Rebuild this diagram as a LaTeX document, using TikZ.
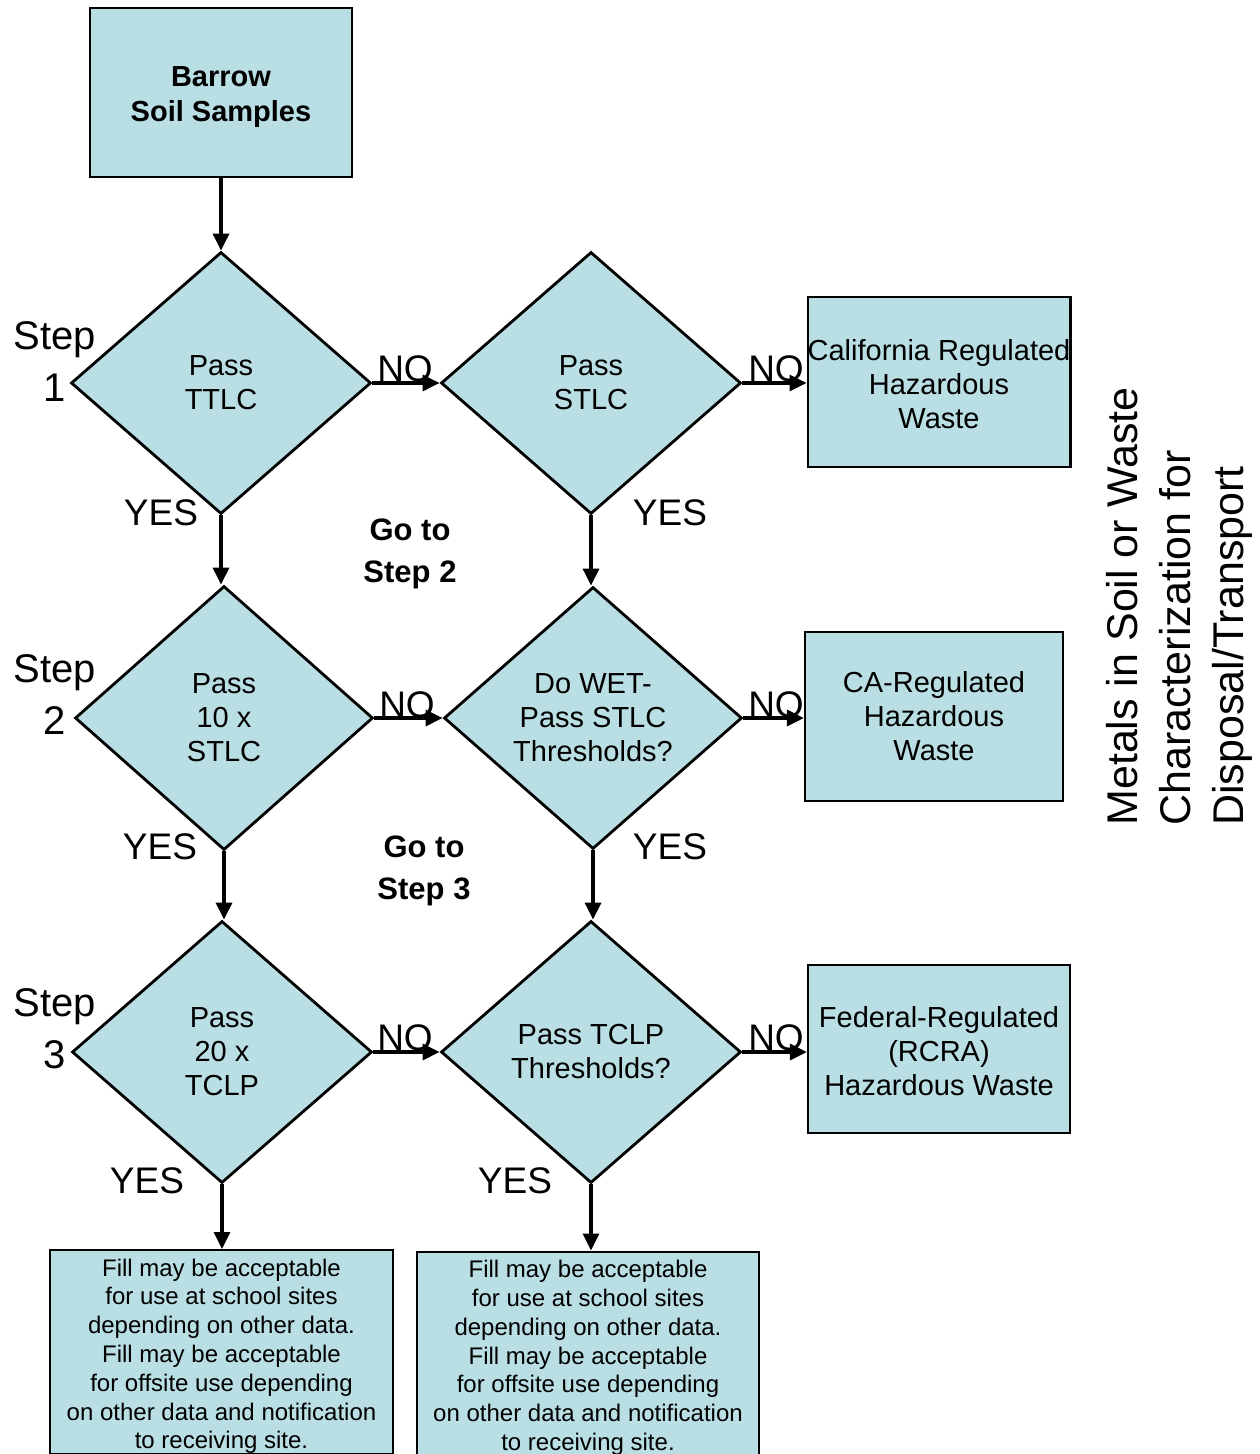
\documentclass[tikz,border=0pt]{standalone}
\usepackage{fontspec}
\setmainfont{Liberation Sans}
\usetikzlibrary{shapes.geometric,arrows.meta}
\definecolor{boxfill}{RGB}{185,222,227}
\tikzset{
  box/.style={draw=black,line width=1.1pt,fill=boxfill,inner sep=0pt,align=center,
    font=\fontsize{14.5}{17}\selectfont},
  dia/.style={draw=black,line width=1.4pt,fill=boxfill,shape=diamond,inner sep=0pt,
    minimum width=150pt,minimum height=131pt,align=center,font=\fontsize{14.5}{17}\selectfont},
  fillbox/.style={draw=black,line width=1.1pt,fill=boxfill,inner sep=0pt,align=center,
    font=\fontsize{12}{14.4}\selectfont},
  arr/.style={line width=1.6pt,-{Triangle[length=8.5pt,width=8pt]}},
  nolab/.style={anchor=base,inner sep=0pt,font=\fontsize{18.5}{20}\selectfont},
  steplab/.style={align=center,inner sep=0pt,font=\fontsize{20}{26}\selectfont},
  golab/.style={align=center,inner sep=0pt,font=\bfseries\fontsize{15.5}{21}\selectfont},
  titlelab/.style={rotate=90,anchor=base west,inner sep=0pt,font=\fontsize{21.5}{26}\selectfont}
}
\begin{document}
\begin{tikzpicture}[x=0.5pt,y=-0.5pt]
\useasboundingbox (0,0) rectangle (1259,1454);
% top box
\node[box,minimum width=131pt,minimum height=84.5pt,font=\bfseries\fontsize{14.5}{17.5}\selectfont] (top) at (221,92.5) {\rule{0pt}{14.6pt}Barrow\\Soil Samples};
% diamonds
\node[dia] (d1) at (221,383) {Pass\\TTLC};
\node[dia] (d1b) at (591,383) {Pass\\STLC};
\node[dia,minimum width=149pt,minimum height=132pt] (d2) at (224,718) {Pass\\10 x\\STLC};
\node[dia,minimum width=149pt] (d2b) at (593,718) {Do WET-\\Pass STLC\\Thresholds?};
\node[dia] (d3) at (222,1052) {Pass\\20 x\\TCLP};
\node[dia] (d3b) at (591,1052) {Pass TCLP\\Thresholds?};
% result boxes
\node[box,minimum width=131pt,minimum height=85pt] (ca1) at (939,382) {\rule{0pt}{12.6pt}California Regulated\\Hazardous\\Waste};
\node[box,minimum width=129pt,minimum height=84.5pt] (ca2) at (934,716.5) {CA-Regulated\\Hazardous\\Waste};
\node[box,minimum width=131pt,minimum height=84pt] (fed) at (939,1049) {\rule{0pt}{12.6pt}Federal-Regulated\\(RCRA)\\Hazardous Waste};
\node[fillbox,minimum width=171.5pt,minimum height=100pt] (bl) at (221.5,1352) {\rule{0pt}{13pt}Fill may be acceptable\\for use at school sites\\depending on other data.\\Fill may be acceptable\\for offsite use depending\\on other data and notification\\to receiving site.};
\node[fillbox,minimum width=171pt,minimum height=98.5pt] (br) at (588,1353.5) {\rule{0pt}{13pt}Fill may be acceptable\\for use at school sites\\depending on other data.\\Fill may be acceptable\\for offsite use depending\\on other data and notification\\to receiving site.};
% arrows
\draw[arr] (top.south) -- (d1.north);
\draw[arr] (d1.south) -- (d1.south |- d2.north);
\draw[arr] (d2.south) -- (d2.south |- d3.north);
\draw[arr] (d1b.south) -- (d1b.south |- d2b.north);
\draw[arr] (d2b.south) -- (d2b.south |- d3b.north);
\draw[arr] (d3.south) -- (d3.south |- bl.north);
\draw[arr] (d3b.south) -- (d3b.south |- br.north);
\draw[arr] (d1.east) -- (d1b.west);
\draw[arr] (d1b.east) -- (d1b.east -| ca1.west);
\draw[arr] (d2.east) -- (d2b.west);
\draw[arr] (d2b.east) -- (d2b.east -| ca2.west);
\draw[arr] (d3.east) -- (d3b.west);
\draw[arr] (d3b.east) -- (d3b.east -| fed.west);
% NO labels
\node[nolab] (no1) at (405,382) {NO};
\node[nolab] (no2) at (776,382) {NO};
\node[nolab] (no3) at (407,717) {NO};
\node[nolab] (no4) at (776,717) {NO};
\node[nolab] (no5) at (405,1050) {NO};
\node[nolab] (no6) at (776,1050) {NO};
% YES labels
\node[nolab] (y1) at (161,525) {YES};
\node[nolab] (y2) at (670,525) {YES};
\node[nolab] (y3) at (160,859) {YES};
\node[nolab] (y4) at (670,859) {YES};
\node[nolab] (y5) at (147,1193) {YES};
\node[nolab] (y6) at (515,1193) {YES};
% Step labels
\node[steplab] (s1) at (55,362) {Step\\1};
\node[steplab] (s2) at (55,695) {Step\\2};
\node[steplab] (s3) at (55,1029) {Step\\3};
% Go to labels
\node[golab] (g2) at (410,554) {Go to\\Step 2};
\node[golab] (g3) at (424,871) {Go to\\Step 3};
% title
\node[titlelab] (t1) at (1137,826) {Metals in Soil or Waste};
\node[titlelab] (t2) at (1190,826) {Characterization for};
\node[titlelab] (t3) at (1243,826) {Disposal/Transport};
\end{tikzpicture}
\end{document}
